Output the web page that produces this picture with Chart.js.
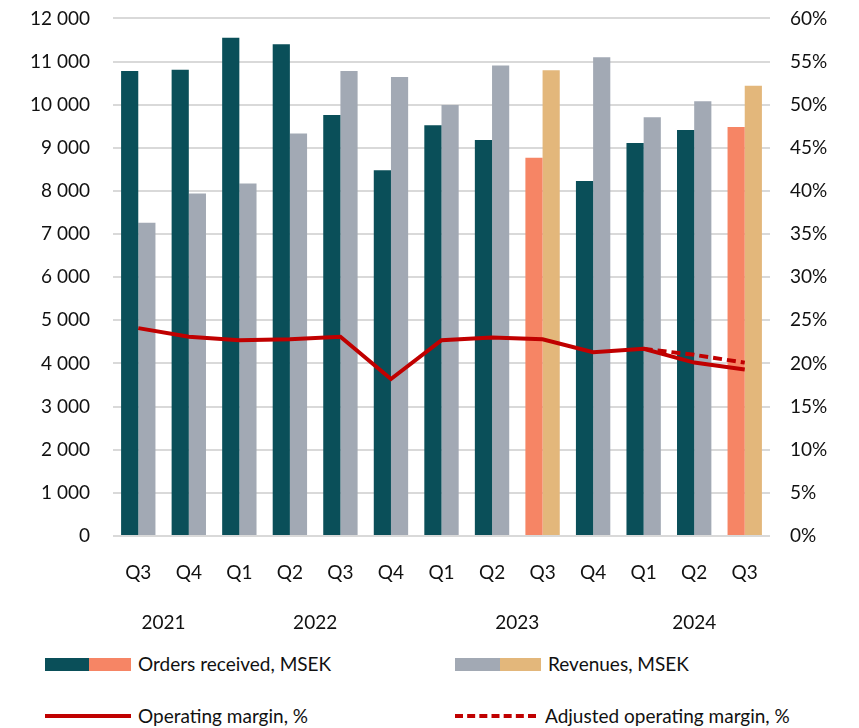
<!DOCTYPE html>
<html>
<head>
<meta charset="utf-8">
<script src="https://cdn.jsdelivr.net/npm/chart.js@4.4.1/dist/chart.umd.min.js"></script>
<style>
  body { margin: 0; background: #fff; font-family: Lato, sans-serif; overflow: hidden; }
  #wrap { position: absolute; left: 0; top: -16px; width: 859px; height: 656px; }
  .leg { position: absolute; font-size: 19px; color: #111; line-height: 20px; white-space: nowrap; }
  .sw { position: absolute; height: 13px; }
  .ln { position: absolute; height: 0; border-top: 4px solid #c00000; }
  .dash { border-top-style: dashed; }
</style>
</head>
<body>
<div id="wrap"><canvas id="chart"></canvas></div>

<div class="sw" style="left:45px;top:658px;width:44px;background:#0a4f59"></div>
<div class="sw" style="left:89px;top:658px;width:42px;background:#f68565"></div>
<div class="leg" style="left:138px;top:654px">Orders received, MSEK</div>
<div class="sw" style="left:455px;top:658px;width:45px;background:#a2a9b4"></div>
<div class="sw" style="left:500px;top:658px;width:41px;background:#e3b77b"></div>
<div class="leg" style="left:548px;top:654px">Revenues, MSEK</div>

<div class="ln" style="left:45px;top:714px;width:86px"></div>
<div class="leg" style="left:138px;top:706px">Operating margin, %</div>
<div class="ln dash" style="left:455px;top:714px;width:81px"></div>
<div class="leg" style="left:545px;top:706px">Adjusted operating margin, %</div>

<script>
const quarters = ["Q3", "Q4", "Q1", "Q2", "Q3", "Q4", "Q1", "Q2", "Q3", "Q4", "Q1", "Q2", "Q3"];
const orders = [10780, 10810, 11550, 11400, 9760, 8480, 9520, 9180, 8770, 8230, 9110, 9410, 9480];
const revenues = [7260, 7940, 8170, 9330, 10780, 10640, 9990, 10910, 10800, 11100, 9710, 10080, 10440];
const margin = [24.1, 23.1, 22.7, 22.8, 23.1, 18.2, 22.7, 23.0, 22.8, 21.3, 21.7, 20.1, 19.3];
const adjMargin = [null, null, null, null, null, null, null, null, null, null, 21.7, 21.0, 20.1];
const highlight = [8, 12]; // comparable quarters
const years = ["2021", "2022", "2023", "2024"];
const yearPos = [0.5, 3.5, 7.5, 11];
const leftTicks = [0, 1000, 2000, 3000, 4000, 5000, 6000, 7000, 8000, 9000, 10000, 11000, 12000];

const teal = "#0a4f59", salmon = "#f68565", grey = "#a2a9b4", tan = "#e3b77b", red = "#c00000";
const font = { family: "Lato", size: 19 };

new Chart(document.querySelector("#chart"), {
  data: {
    labels: quarters,
    datasets: [
      {
        type: "line",
        label: "Operating margin, %",
        data: margin,
        yAxisID: "y1",
        borderColor: red,
        borderWidth: 4,
        pointRadius: 0,
        order: 0,
      },
      {
        type: "line",
        label: "Adjusted operating margin, %",
        data: adjMargin,
        yAxisID: "y1",
        borderColor: red,
        borderWidth: 4,
        borderDash: [9, 5],
        pointRadius: 0,
        order: 0,
      },
      {
        type: "bar",
        label: "Orders received, MSEK",
        data: orders,
        yAxisID: "y",
        backgroundColor: (c) => (highlight.includes(c.dataIndex) ? salmon : teal),
        categoryPercentage: 0.68,
        barPercentage: 1,
        order: 1,
      },
      {
        type: "bar",
        label: "Revenues, MSEK",
        data: revenues,
        yAxisID: "y",
        backgroundColor: (c) => (highlight.includes(c.dataIndex) ? tan : grey),
        categoryPercentage: 0.68,
        barPercentage: 1,
        order: 1,
      },
    ],
  },
  options: {
    responsive: true,
    maintainAspectRatio: false,
    animation: false,
    layout: { padding: { top: 2, bottom: 4, left: 0, right: 0 } },
    plugins: { legend: { display: false }, tooltip: { enabled: false } },
    scales: {
      x: {
        position: "bottom",
        grid: { display: false },
        border: { display: false },
        ticks: { font: font, color: "#111", padding: 17 },
        afterFit: (s) => { s.height = 50; },
      },
      x2: {
        type: "linear",
        position: "bottom",
        min: -0.5,
        max: 12.5,
        grid: { display: false },
        border: { display: false },
        afterBuildTicks: (s) => { s.ticks = yearPos.map((v) => ({ value: v })); },
        ticks: {
          font: font,
          color: "#111",
          padding: 17,
          callback: (v) => years[yearPos.indexOf(v)],
        },
        afterFit: (s) => { s.height = 50; },
      },
      y: {
        position: "left",
        min: 0,
        max: 12000,
        grid: { color: "#d9d9d9", lineWidth: 2, drawTicks: false },
        border: { display: false },
        afterBuildTicks: (s) => { s.ticks = leftTicks.map((v) => ({ value: v })); },
        ticks: {
          font: font,
          color: "#111",
          padding: 23,
          callback: (v) => v.toLocaleString("en-US").replace(",", " "),
        },
        afterFit: (s) => { s.width = 113; },
      },
      y1: {
        position: "right",
        min: 0,
        max: 60,
        grid: { display: false, drawTicks: false },
        border: { display: false },
        ticks: { font: font, color: "#111", padding: 20, stepSize: 5, callback: (v) => v + "%" },
        afterFit: (s) => { s.width = 89; },
      },
    },
  },
});
</script>
</body>
</html>
